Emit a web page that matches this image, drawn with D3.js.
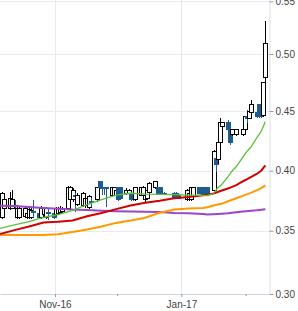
<!DOCTYPE html>
<html>
<head>
<meta charset="utf-8">
<script src="https://cdn.jsdelivr.net/npm/d3@7"></script>
<style>
  body { margin: 0; background: #fff; }
  .axis text { font-family: "Liberation Sans", Arial, sans-serif; font-size: 10px; fill: #444; }
</style>
</head>
<body>
<div id="chart"></div>
<script>
// daily prices (trading days)
let dates = [
  "2016-10-06","2016-10-07","2016-10-10","2016-10-11","2016-10-12","2016-10-13","2016-10-14",
  "2016-10-17","2016-10-18","2016-10-19","2016-10-20","2016-10-21","2016-10-24","2016-10-25",
  "2016-10-26","2016-10-27","2016-10-28","2016-10-31","2016-11-01","2016-11-02","2016-11-03",
  "2016-11-04","2016-11-07","2016-11-08","2016-11-09","2016-11-10","2016-11-11","2016-11-14",
  "2016-11-15","2016-11-16","2016-11-17","2016-11-18","2016-11-21","2016-11-22","2016-11-23",
  "2016-11-24","2016-11-25","2016-11-28","2016-11-29","2016-11-30","2016-12-01","2016-12-02",
  "2016-12-05","2016-12-06","2016-12-07","2016-12-08","2016-12-09","2016-12-12","2016-12-13",
  "2016-12-14","2016-12-15","2016-12-16","2016-12-19","2016-12-20","2016-12-21","2016-12-22",
  "2016-12-23","2016-12-28","2016-12-29","2016-12-30","2017-01-03","2017-01-04","2017-01-05",
  "2017-01-06","2017-01-09","2017-01-10","2017-01-11","2017-01-12","2017-01-13","2017-01-16",
  "2017-01-17","2017-01-18","2017-01-19","2017-01-20","2017-01-23","2017-01-24","2017-01-25",
  "2017-01-27","2017-01-30","2017-01-31","2017-02-01","2017-02-02","2017-02-03","2017-02-06",
  "2017-02-07","2017-02-08","2017-02-09","2017-02-10"
];
let open = [
  .3606,.3689,.3689,.3689,.3706,.3606,.3610,.3620,.3606,.3606,.3610,.3660,.3647,.3606,
  .3631,.3606,.3650,.3647,.3631,.3647,.3650,.3656,.3689,.3756,.3756,.3790,.3722,.3714,
  .3706,.3706,.3697,.3740,.3756,.3906,.3856,.3856,.3856,.3797,.3797,.3797,.3856,.3856,
  .3814,.3814,.3814,.3814,.3756,.3797,.3797,.3756,.3772,.3822,.3856,.3856,.3856,.3814,
  .3814,.3814,.3814,.3797,.3756,.3756,.3756,.3789,.3856,.3856,.3814,.3856,.3856,.3839,
  .4106,.4090,.4240,.4366,.4400,.4341,.4299,.4299,.4299,.4341,.4450,.4441,.4491,.4491,
  .4553,.4553,.4466,.4798
];
let high = [
  .3822,.3772,.3822,.3839,.3756,.3700,.3700,.3706,.3689,.3689,.3689,.3756,.3672,.3706,
  .3700,.3700,.3689,.3660,.3700,.3700,.3706,.3697,.3872,.3870,.3856,.3814,.3814,.3822,
  .3797,.3790,.3797,.3772,.3864,.3914,.3872,.3860,.3860,.3864,.3864,.3856,.3864,.3860,
  .3856,.3850,.3822,.3822,.3864,.3864,.3872,.3806,.3845,.3906,.3914,.3864,.3860,.3822,
  .3822,.3822,.3822,.3806,.3847,.3822,.3864,.3864,.3864,.3860,.3822,.3864,.3860,.4173,
  .4140,.4257,.4442,.4410,.4425,.4366,.4350,.4350,.4345,.4460,.4509,.4530,.4596,.4500,
  .4560,.4560,.4746,.5316
];
let low = [
  .3600,.3647,.3672,.3680,.3606,.3600,.3600,.3606,.3600,.3600,.3600,.3606,.3600,.3600,
  .3620,.3600,.3589,.3600,.3620,.3640,.3640,.3647,.3680,.3740,.3740,.3656,.3706,.3700,
  .3690,.3689,.3680,.3700,.3740,.3850,.3800,.3800,.3697,.3780,.3790,.3781,.3750,.3760,
  .3800,.3806,.3750,.3750,.3750,.3790,.3780,.3740,.3764,.3814,.3850,.3806,.3806,.3800,
  .3806,.3764,.3764,.3764,.3750,.3750,.3750,.3781,.3806,.3806,.3806,.3806,.3806,.3830,
  .3989,.4060,.4230,.4340,.4232,.4215,.4290,.4290,.4290,.4330,.4400,.4430,.4480,.4441,
  .4441,.4441,.4450,.4746
];
let close = [
  .3812,.3756,.3772,.3756,.3700,.3689,.3689,.3689,.3647,.3680,.3672,.3655,.3606,.3689,
  .3689,.3689,.3645,.3606,.3689,.3689,.3689,.3689,.3856,.3856,.3839,.3785,.3797,.3814,
  .3772,.3772,.3781,.3735,.3856,.3856,.3856,.3856,.3850,.3856,.3856,.3839,.3756,.3772,
  .3839,.3839,.3756,.3756,.3856,.3856,.3856,.3797,.3839,.3897,.3906,.3814,.3814,.3814,
  .3814,.3772,.3772,.3772,.3839,.3814,.3856,.3856,.3814,.3814,.3814,.3814,.3814,.4157,
  .4048,.4240,.4400,.4400,.4341,.4240,.4341,.4341,.4341,.4450,.4441,.4500,.4553,.4450,
  .4450,.4450,.4746,.5102
];

let maDates = [
  "2016-10-05","2016-10-12","2016-10-19","2016-10-26","2016-11-02","2016-11-09","2016-11-16",
  "2016-11-23","2016-11-30","2016-12-07","2016-12-14","2016-12-21","2016-12-28","2017-01-04",
  "2017-01-11","2017-01-13","2017-01-16","2017-01-18","2017-01-20","2017-01-23","2017-01-25",
  "2017-01-27","2017-01-30","2017-02-01","2017-02-03","2017-02-06","2017-02-08","2017-02-10"
];
let maFast = [
  .3520,.3548,.3575,.3610,.3635,.3670,.3718,.3758,.3797,.3812,.3805,.3803,.3800,.3797,
  .3794,.3792,.3810,.3856,.3885,.3950,.3998,.4035,.4110,.4160,.4196,.4280,.4330,.4410
];
let maMedium = [
  .3474,.3505,.3535,.3568,.3574,.3585,.3620,.3648,.3680,.3710,.3733,.3750,.3770,.3780,
  .3795,.3800,.3810,.3822,.3835,.3852,.3865,.3880,.3910,.3928,.3947,.3975,.4000,.4045
];
let maSlow = [
  .3466,.3466,.3466,.3466,.3472,.3490,.3510,.3535,.3565,.3585,.3608,.3650,.3676,.3684,
  .3690,.3695,.3710,.3718,.3725,.3745,.3758,.3770,.3790,.3803,.3815,.3838,.3855,.3878
];
let maLong = [
  .3708,.3705,.3698,.3690,.3683,.3676,.3672,.3667,.3663,.3660,.3658,.3655,.3648,.3645,
  .3640,.3636,.3638,.3640,.3642,.3646,.3650,.3654,.3660,.3663,.3666,.3670,.3674,.3678
];

let yTicks = [0.30, 0.35, 0.40, 0.45, 0.50, 0.55];
let xTickDates = ["2016-11-01","2016-12-01","2017-01-01","2017-02-01"];
let xTickLabels = ["Nov-16","","Jan-17",""];

let width = 298, height = 311;
let plotRight = 269.5, plotBottom = 294;

let parse = d3.timeParse("%Y-%m-%d");
let noon = function(s) { return d3.timeHour.offset(parse(s), 12); };

let x = d3.scaleTime()
  .domain([noon("2016-10-05"), noon("2017-02-12")])
  .range([0, plotRight]);

// the picture's value axis is not quite even, so map through each tick
let y = d3.scaleLinear()
  .domain(yTicks)
  .range([294, 230.7, 170.7, 111, 54, 1.3]);

let svg = d3.select("#chart")
  .append("svg")
  .attr("width", width)
  .attr("height", height);

svg.append("defs").append("clipPath")
  .attr("id", "plot")
  .append("rect")
  .attr("width", plotRight)
  .attr("height", plotBottom);

// grid
svg.append("g")
  .selectAll("line")
  .data(yTicks.filter(function(d) { return d > 0.3; }))
  .enter().append("line")
  .attr("x1", 0)
  .attr("x2", plotRight)
  .attr("y1", function(d) { return Math.round(y(d)) + 0.5; })
  .attr("y2", function(d) { return Math.round(y(d)) + 0.5; })
  .attr("stroke", "#e6e9ef");

svg.append("g")
  .selectAll("line")
  .data(xTickDates.filter(function(d, i) { return xTickLabels[i] !== ""; }))
  .enter().append("line")
  .attr("x1", function(d) { return Math.round(x(parse(d))) + 0.5; })
  .attr("x2", function(d) { return Math.round(x(parse(d))) + 0.5; })
  .attr("y1", 0)
  .attr("y2", plotBottom)
  .attr("stroke", "#e6e9ef");

// axes
let yAxis = svg.append("g")
  .attr("class", "axis")
  .attr("transform", "translate(" + plotRight + ",0)")
  .call(d3.axisRight(y)
    .tickValues(yTicks)
    .tickSize(4)
    .tickPadding(2)
    .tickSizeOuter(0)
    .tickFormat(d3.format(".2f")));
yAxis.select(".domain").attr("stroke", "#d9dee6").attr("d", "M0.5,0V" + plotBottom);
yAxis.selectAll(".tick line").attr("stroke", "#8d9db3");

let xAxis = svg.append("g")
  .attr("class", "axis")
  .attr("transform", "translate(0," + plotBottom + ")")
  .call(d3.axisBottom(x)
    .tickValues(xTickDates.map(parse))
    .tickSize(3)
    .tickPadding(4)
    .tickSizeOuter(0)
    .tickFormat(function(d, i) { return xTickLabels[i]; }));
xAxis.select(".domain").attr("stroke", "#ccd3de");
xAxis.selectAll(".tick line")
  .attr("stroke", "#8d9db3")
  .attr("y2", function(d, i) { return xTickLabels[i] === "" ? 2 : 3; });

// candles
let candles = dates.map(function(d, i) {
  return {date: noon(d), o: open[i], h: high[i], l: low[i], c: close[i]};
});

let plot = svg.append("g").attr("clip-path", "url(#plot)");

let candle = plot.append("g")
  .selectAll("g")
  .data(candles)
  .enter().append("g")
  .attr("shape-rendering", "crispEdges");

candle.append("line")
  .attr("x1", function(d) { return Math.round(x(d.date)) + 0.5; })
  .attr("x2", function(d) { return Math.round(x(d.date)) + 0.5; })
  .attr("y1", function(d) { return y(d.h); })
  .attr("y2", function(d) { return y(d.l); })
  .attr("stroke", function(d) { return d.c > d.o ? "#000" : "#1f5b8e"; });

candle.append("rect")
  .attr("x", function(d) { return Math.round(x(d.date)) - 1.5; })
  .attr("width", 4)
  .attr("y", function(d) { return y(Math.max(d.o, d.c)); })
  .attr("height", function(d) { return Math.max(1, Math.abs(y(d.o) - y(d.c))); })
  .attr("fill", function(d) { return d.c > d.o ? "#fff" : "#1f5b8e"; })
  .attr("stroke", function(d) { return d.c > d.o ? "#000" : "#1f5b8e"; })
  .attr("stroke-width", 1);

// moving averages
let maX = maDates.map(noon);
let line = d3.line()
  .x(function(d) { return x(d[0]); })
  .y(function(d) { return y(d[1]); });

let averages = [
  {values: maLong, color: "#9b45c9", w: 2},
  {values: maSlow, color: "#ff9a00", w: 2},
  {values: maMedium, color: "#d40000", w: 2},
  {values: maFast, color: "#5cbf3a", w: 1.3}
];

plot.selectAll(".ma")
  .data(averages)
  .enter().append("path")
  .attr("class", "ma")
  .attr("fill", "none")
  .attr("stroke", function(d) { return d.color; })
  .attr("stroke-width", function(d) { return d.w; })
  .attr("d", function(d) { return line(d.values.map(function(v, i) { return [maX[i], v]; })); });
</script>
</body>
</html>
